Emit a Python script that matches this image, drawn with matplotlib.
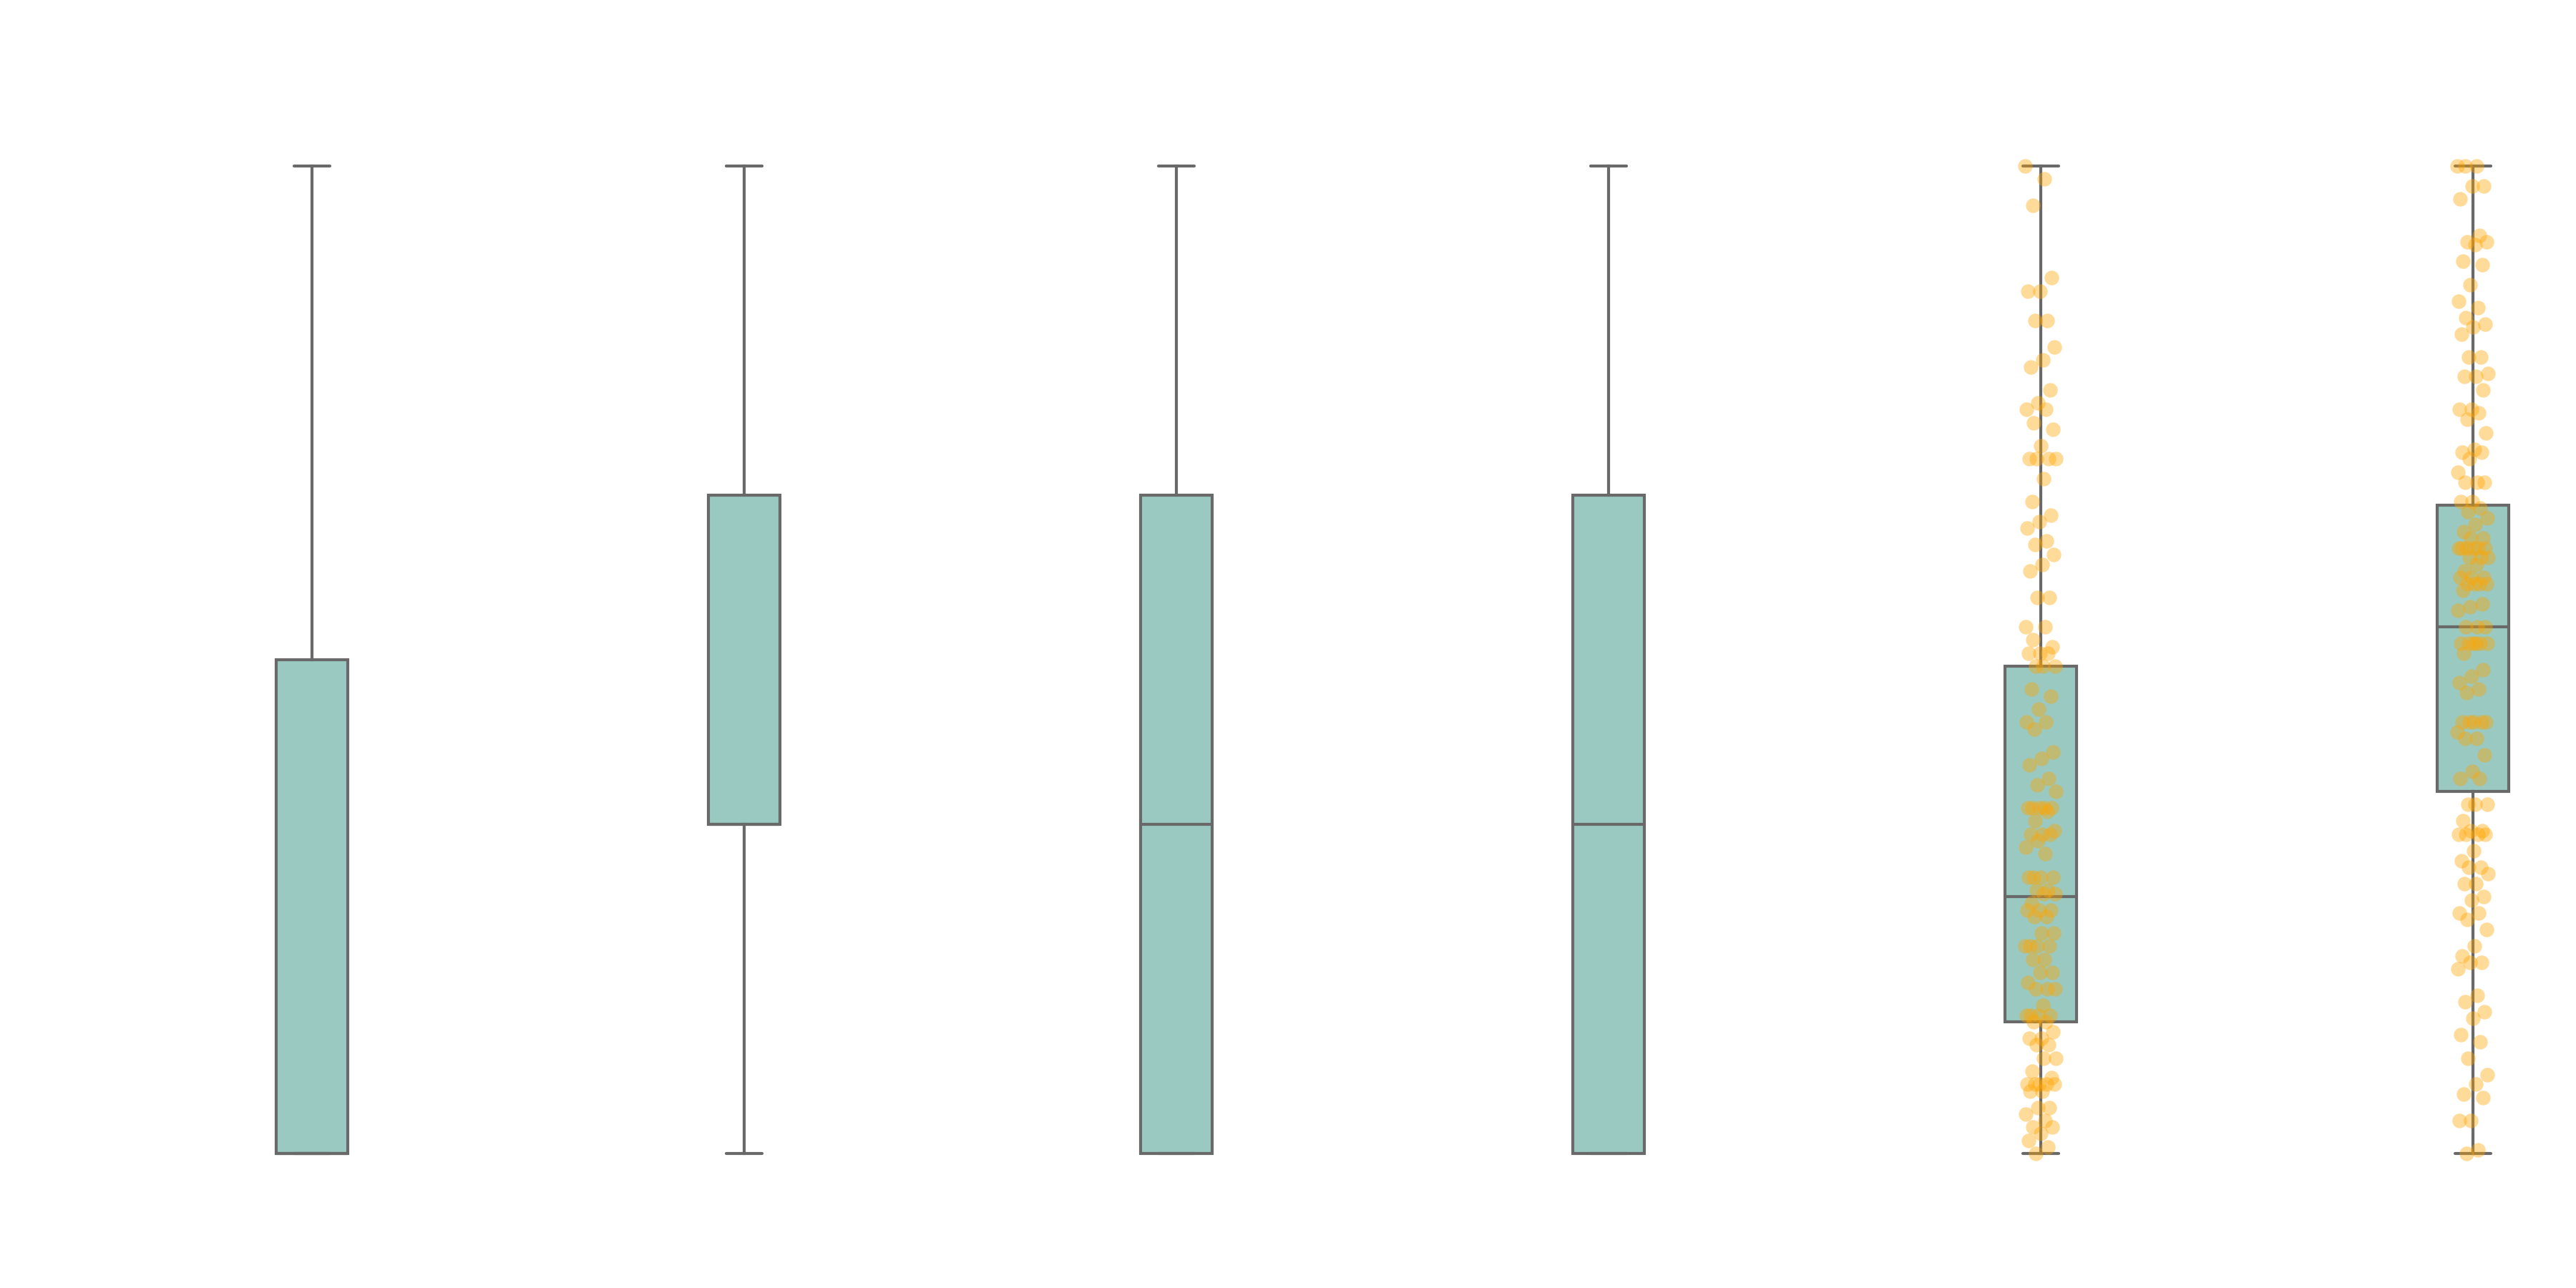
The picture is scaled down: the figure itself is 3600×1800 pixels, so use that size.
import numpy as np
import matplotlib
matplotlib.use('Agg')
import matplotlib.pyplot as plt

# box statistics (value scale 0..3)
positions = [1, 2, 3, 4, 5, 6]
whislo = [0.0, 0.0, 0.0, 0.0, 0.0, 0.0]
q1 = [0.0, 1.0, 0.0, 0.0, 0.40, 1.10]
med = [0.0, 1.0, 1.0, 1.0, 0.78, 1.60]
q3 = [1.5, 2.0, 2.0, 2.0, 1.48, 1.97]
whishi = [3.0, 3.0, 3.0, 3.0, 3.0, 3.0]

# strip points on box 5
pts5 = [3.00, 2.96, 2.88, 2.66, 2.62, 2.62, 2.53, 2.53, 2.45, 2.41, 2.39, 2.32,
        2.28, 2.26, 2.26, 2.22, 2.20, 2.15, 2.11, 2.11, 2.11, 2.11, 2.05,
        1.98, 1.94, 1.92, 1.90, 1.86, 1.85, 1.82, 1.79, 1.77, 1.69, 1.69,
        1.60, 1.60, 1.56, 1.54, 1.52, 1.52, 1.52, 1.48, 1.48, 1.48, 1.41,
        1.39, 1.35, 1.31, 1.31, 1.29, 1.22, 1.20, 1.18, 1.14, 1.12, 1.10,
        1.05, 1.05, 1.05, 1.05, 1.05, 1.04, 1.01, 0.98,
        0.97, 0.97, 0.97, 0.95, 0.93, 0.91, 0.84, 0.84, 0.84, 0.84, 0.80,
        0.80, 0.79, 0.79, 0.76, 0.74, 0.74, 0.74, 0.72, 0.72, 0.67, 0.67,
        0.63, 0.63, 0.63, 0.63, 0.59, 0.59, 0.55, 0.55, 0.52, 0.50, 0.50,
        0.50, 0.45, 0.42, 0.42, 0.42, 0.42, 0.40, 0.40, 0.37, 0.35, 0.35,
        0.33, 0.33, 0.29, 0.29, 0.25, 0.23, 0.21, 0.21, 0.21, 0.21, 0.21,
        0.19, 0.19, 0.14, 0.14, 0.12, 0.10, 0.08, 0.08, 0.06, 0.04, 0.02, 0.00]

# strip points on box 6
pts6 = [3.00, 3.00, 3.00, 2.94, 2.94, 2.90, 2.79, 2.77, 2.77, 2.76, 2.71, 2.70,
        2.64, 2.59, 2.57, 2.54, 2.52, 2.51, 2.49, 2.42, 2.42, 2.37, 2.36,
        2.36, 2.32, 2.26, 2.26, 2.25, 2.23, 2.19, 2.14, 2.13, 2.13, 2.11,
        2.07, 2.04, 2.04, 2.04,
        1.98, 1.98, 1.96, 1.95, 1.93, 1.91, 1.89, 1.87, 1.87, 1.84, 1.84,
        1.84, 1.84, 1.84, 1.84, 1.81, 1.81, 1.81, 1.79, 1.77, 1.75, 1.75,
        1.75, 1.73, 1.73, 1.73, 1.73, 1.71, 1.67, 1.66, 1.65, 1.60, 1.60,
        1.60, 1.55, 1.55, 1.55, 1.55, 1.55, 1.55, 1.52, 1.47, 1.45, 1.43,
        1.41, 1.40, 1.31, 1.31, 1.31, 1.31, 1.31, 1.28, 1.26, 1.26, 1.21,
        1.16, 1.14, 1.14, 1.06, 1.06, 1.06, 1.01, 0.98, 0.98,
        0.97, 0.97, 0.97, 0.97, 0.92, 0.89, 0.87, 0.87, 0.85, 0.82, 0.82,
        0.78, 0.77, 0.73, 0.73, 0.71, 0.68, 0.63, 0.60, 0.58, 0.58, 0.56,
        0.48, 0.46, 0.43, 0.41, 0.36, 0.34, 0.29, 0.24, 0.21, 0.18, 0.17,
        0.10, 0.10, 0.01, 0.00]

box_color = '#99c9c1'
line_color = '#696969'
pt_color = '#ffa500'

stats = []
for i in range(len(positions)):
    stats.append({'whislo': whislo[i], 'q1': q1[i], 'med': med[i],
                  'q3': q3[i], 'whishi': whishi[i], 'fliers': []})

fig = plt.figure(figsize=(12, 6), dpi=300)
ax = fig.add_axes([0, 0, 1, 1])

lp = dict(color=line_color, linewidth=1.0)
ax.bxp(stats, positions=positions, widths=0.166, patch_artist=True,
       showfliers=False,
       boxprops=dict(facecolor=box_color, edgecolor=line_color, linewidth=1.0),
       medianprops=lp, whiskerprops=lp,
       capprops=dict(color=line_color, linewidth=1.0, solid_capstyle='round'))


def jitter(n, half=0.036):
    # deterministic spread (golden-ratio sequence)
    k = np.arange(n)
    return ((k * 0.6180339887) % 1.0 - 0.5) * 2 * half


for pos, pts in [(5, pts5), (6, pts6)]:
    y = np.array(pts)
    x = pos + jitter(len(y))
    ax.scatter(x, y, s=24, color=pt_color, alpha=0.4, linewidths=0, zorder=5)

# pixel mapping: value 0 -> y=1612, 3 -> y=232 ; position 1 -> x=436, 604 px/unit
ax.set_xlim(1 - 436 / 604, 1 + (3600 - 436) / 604)
ax.set_ylim(-(1800 - 1612) / 460, 3 + 232 / 460)
ax.axis('off')

fig.savefig('out.png', dpi=300, facecolor='white')
